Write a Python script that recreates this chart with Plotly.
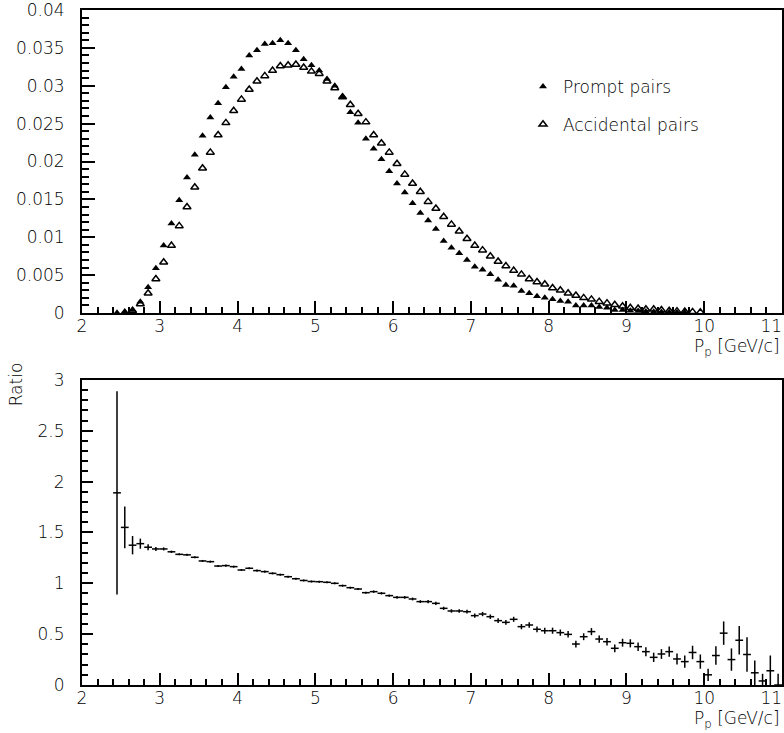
import plotly.graph_objects as go

# ---- momentum bins (bin centres, GeV/c) ----
p_prompt = [2.45, 2.55, 2.65, 2.75, 2.85, 2.95, 3.05, 3.15, 3.25, 3.35, 3.45, 3.55, 3.65, 3.75,
            3.85, 3.95, 4.05, 4.15, 4.25, 4.35, 4.45, 4.55, 4.65, 4.75, 4.85, 4.95, 5.05, 5.15,
            5.25, 5.35, 5.45, 5.55, 5.65, 5.75, 5.85, 5.95, 6.05, 6.15, 6.25, 6.35, 6.45, 6.55,
            6.65, 6.75, 6.85, 6.95, 7.05, 7.15, 7.25, 7.35, 7.45, 7.55, 7.65, 7.75, 7.85, 7.95,
            8.05, 8.15, 8.25, 8.35, 8.45, 8.55, 8.65, 8.75, 8.85, 8.95, 9.05, 9.15, 9.25, 9.35,
            9.45, 9.55, 9.65, 9.75]
prompt = [0.00003, 0.0001, 0.0004, 0.0015, 0.0034, 0.0059, 0.0089, 0.0118, 0.0149, 0.0179,
          0.0209, 0.0234, 0.0258, 0.0277, 0.0298, 0.0312, 0.0322, 0.0340, 0.0347, 0.0355,
          0.0356, 0.0360, 0.0356, 0.0347, 0.0335, 0.0327, 0.0320, 0.0309, 0.0300, 0.0286,
          0.0265, 0.0251, 0.0230, 0.0217, 0.0203, 0.0187, 0.0171, 0.0159, 0.0145, 0.0132,
          0.0122, 0.0111, 0.0095, 0.0086, 0.0079, 0.0070, 0.0061, 0.0057, 0.0051, 0.0044,
          0.0037, 0.0036, 0.0029, 0.0026, 0.0022, 0.0020, 0.0018, 0.0016, 0.0015, 0.0010,
          0.0010, 0.0010, 0.0008, 0.0007, 0.0004, 0.0004, 0.0003, 0.00025, 0.0002, 0.00015,
          0.00012, 0.0001, 0.00008, 0.00006]

p_accid = [2.55, 2.65, 2.75, 2.85, 2.95, 3.05, 3.15, 3.25, 3.35, 3.45, 3.55, 3.65, 3.75, 3.85,
           3.95, 4.05, 4.15, 4.25, 4.35, 4.45, 4.55, 4.65, 4.75, 4.85, 4.95, 5.05, 5.15, 5.25,
           5.35, 5.45, 5.55, 5.65, 5.75, 5.85, 5.95, 6.05, 6.15, 6.25, 6.35, 6.45, 6.55, 6.65,
           6.75, 6.85, 6.95, 7.05, 7.15, 7.25, 7.35, 7.45, 7.55, 7.65, 7.75, 7.85, 7.95, 8.05,
           8.15, 8.25, 8.35, 8.45, 8.55, 8.65, 8.75, 8.85, 8.95, 9.05, 9.15, 9.25, 9.35, 9.45,
           9.55, 9.65, 9.75, 9.85, 9.95]
accidental = [0.00005, 0.0003, 0.0012, 0.0026, 0.0045, 0.0067, 0.0089, 0.0115, 0.0140, 0.0166,
              0.0191, 0.0212, 0.0235, 0.0251, 0.0267, 0.0282, 0.0295, 0.0306, 0.0313, 0.0320,
              0.0326, 0.0327, 0.0328, 0.0324, 0.0319, 0.0316, 0.0306, 0.0297, 0.0285, 0.0275,
              0.0263, 0.0252, 0.0235, 0.0224, 0.0212, 0.0197, 0.0183, 0.0171, 0.0160, 0.0147,
              0.0138, 0.0127, 0.0117, 0.0108, 0.0098, 0.0089, 0.0083, 0.0075, 0.0068, 0.0062,
              0.0056, 0.0051, 0.0045, 0.0041, 0.0038, 0.0033, 0.0030, 0.0026, 0.0023, 0.0020,
              0.0018, 0.0015, 0.0013, 0.0011, 0.0009, 0.0007, 0.0006, 0.0005, 0.0005, 0.0004,
              0.0003, 0.00025, 0.0002, 0.00015, 0.0001]

# ---- prompt / accidental ratio ----
p_ratio = [2.45, 2.55, 2.65, 2.75, 2.85, 2.95, 3.05, 3.15, 3.25, 3.35, 3.45, 3.55, 3.65, 3.75,
           3.85, 3.95, 4.05, 4.15, 4.25, 4.35, 4.45, 4.55, 4.65, 4.75, 4.85, 4.95, 5.05, 5.15,
           5.25, 5.35, 5.45, 5.55, 5.65, 5.75, 5.85, 5.95, 6.05, 6.15, 6.25, 6.35, 6.45, 6.55,
           6.65, 6.75, 6.85, 6.95, 7.05, 7.15, 7.25, 7.35, 7.45, 7.55, 7.65, 7.75, 7.85, 7.95,
           8.05, 8.15, 8.25, 8.35, 8.45, 8.55, 8.65, 8.75, 8.85, 8.95, 9.05, 9.15, 9.25, 9.35,
           9.45, 9.55, 9.65, 9.75, 9.85, 9.95, 10.05, 10.15, 10.25, 10.35, 10.45, 10.55, 10.65,
           10.75, 10.85, 10.95]
ratio = [1.89, 1.55, 1.375, 1.39, 1.355, 1.338, 1.338, 1.31, 1.285, 1.28, 1.256, 1.22, 1.213,
         1.17, 1.174, 1.164, 1.131, 1.148, 1.125, 1.115, 1.098, 1.085, 1.065, 1.045, 1.028,
         1.018, 1.016, 1.010, 1.000, 0.977, 0.957, 0.944, 0.908, 0.918, 0.902, 0.879, 0.862,
         0.862, 0.846, 0.820, 0.820, 0.803, 0.754, 0.728, 0.728, 0.721, 0.682, 0.698, 0.672,
         0.633, 0.616, 0.646, 0.574, 0.590, 0.548, 0.534, 0.534, 0.515, 0.498, 0.403, 0.475,
         0.525, 0.452, 0.426, 0.361, 0.416, 0.410, 0.377, 0.328, 0.272, 0.305, 0.328, 0.256,
         0.230, 0.32, 0.23, 0.10, 0.29, 0.51, 0.25, 0.44, 0.30, 0.12, 0.04, 0.14, 0.0]
ratio_err = [1.0, 0.205, 0.09, 0.05, 0.03, 0.02, 0.015, 0.012, 0.01, 0.01, 0.01, 0.01, 0.01,
             0.01, 0.01, 0.01, 0.01, 0.01, 0.01, 0.01, 0.01, 0.01, 0.01, 0.01, 0.01, 0.01, 0.01,
             0.01, 0.01, 0.01, 0.01, 0.01, 0.01, 0.012, 0.012, 0.012, 0.013, 0.013, 0.014, 0.014,
             0.015, 0.015, 0.016, 0.017, 0.018, 0.019, 0.02, 0.021, 0.022, 0.023, 0.024, 0.025,
             0.026, 0.027, 0.028, 0.029, 0.03, 0.031, 0.032, 0.033, 0.034, 0.035, 0.036, 0.037,
             0.038, 0.039, 0.04, 0.042, 0.044, 0.046, 0.048, 0.05, 0.055, 0.06, 0.066, 0.07,
             0.06, 0.09, 0.115, 0.11, 0.14, 0.17, 0.12, 0.07, 0.15, 0.11]

# ---- axis ticks ----
x_ticks = [2, 3, 4, 5, 6, 7, 8, 9, 10, 11]
# the last label is padded with no-break spaces so it stays inside the page edge
x_labels = ["2", "3", "4", "5", "6", "7", "8", "9", "10", "11\u00a0\u00a0\u00a0\u00a0"]
y1_ticks = [0, 0.005, 0.01, 0.015, 0.02, 0.025, 0.03, 0.035, 0.04]
y1_labels = ["0", "0.005", "0.01", "0.015", "0.02", "0.025", "0.03", "0.035", "0.04"]
y2_ticks = [0, 0.5, 1, 1.5, 2, 2.5, 3]
y2_labels = ["0", "0.5", "1", "1.5", "2", "2.5", "3"]

FONT = dict(family="DejaVu Sans", size=17, color="black", weight=200)

fig = go.Figure()

fig.add_trace(go.Scatter(
    x=p_prompt, y=prompt, mode="markers", name="Prompt pairs",
    marker=dict(symbol="triangle-up", size=7, color="black", line=dict(width=0)),
    xaxis="x", yaxis="y", legend="legend",
))
fig.add_trace(go.Scatter(
    x=p_accid, y=accidental, mode="markers", name="Accidental pairs",
    marker=dict(symbol="triangle-up-open", size=7, color="black", line=dict(width=1.5, color="black")),
    xaxis="x", yaxis="y", legend="legend2",
))
fig.add_trace(go.Scatter(
    x=p_ratio, y=ratio, mode="markers", showlegend=False,
    marker=dict(size=1, color="black"),
    error_x=dict(type="constant", value=0.05, width=0, thickness=1.5, color="black"),
    error_y=dict(type="data", array=ratio_err, width=0, thickness=1.5, color="black"),
    xaxis="x2", yaxis="y2",
))

axis_common = dict(
    showline=True, linecolor="black", linewidth=2, mirror=True,
    showgrid=False, zeroline=False,
    ticks="inside", tickcolor="black", tickwidth=1.5,
    tickfont=FONT, ticklabeloverflow="allow", automargin=False,
)

fig.update_layout(
    width=784, height=733,
    margin=dict(l=82, r=2, t=10, b=48),
    paper_bgcolor="white", plot_bgcolor="white",
    font=FONT,
    xaxis=dict(axis_common, domain=[0, 1], range=[2, 11], anchor="y",
               tickvals=x_ticks, ticktext=x_labels, ticklen=12, ticklabelstandoff=-3,
               minor=dict(ticks="inside", tick0=2, dtick=0.2, ticklen=6, tickwidth=1.5, tickcolor="black")),
    yaxis=dict(axis_common, domain=[0.5511, 1], range=[0, 0.04], anchor="x",
               tickvals=y1_ticks, ticktext=y1_labels, ticklen=13, ticklabelstandoff=12,
               minor=dict(ticks="inside", tick0=0, dtick=0.001, ticklen=7, tickwidth=1.5, tickcolor="black")),
    xaxis2=dict(axis_common, domain=[0, 1], range=[2, 11], anchor="y2",
                tickvals=x_ticks, ticktext=x_labels, ticklen=12, ticklabelstandoff=-3,
                minor=dict(ticks="inside", tick0=2, dtick=0.2, ticklen=6, tickwidth=1.5, tickcolor="black")),
    yaxis2=dict(axis_common, domain=[0, 0.4519], range=[0, 3], anchor="x2",
                tickvals=y2_ticks, ticktext=y2_labels, ticklen=11, ticklabelstandoff=12,
                minor=dict(ticks="inside", tick0=0, dtick=0.1, ticklen=6, tickwidth=1.5, tickcolor="black")),
    legend=dict(x=0.63, y=0.886, xanchor="left", yanchor="middle", itemwidth=30,
                bgcolor="rgba(0,0,0,0)", borderwidth=0, font=FONT),
    legend2=dict(x=0.63, y=0.830, xanchor="left", yanchor="middle", itemwidth=30,
                 bgcolor="rgba(0,0,0,0)", borderwidth=0, font=FONT),
    showlegend=True,
)

# axis titles
for xa, ya in (("x", "y"), ("x2", "y2")):
    fig.add_annotation(text="P<sub>p</sub> [GeV/c]", xref=f"{xa} domain", yref=f"{ya} domain",
                       x=1, y=0, xanchor="right", yanchor="top", yshift=-21,
                       showarrow=False, font=FONT)
fig.add_annotation(text="Ratio", xref="paper", yref="y2 domain", x=-0.094, y=1.065,
                   xanchor="center", yanchor="top", textangle=-90, showarrow=False, font=FONT)

fig.write_html("out.html")
